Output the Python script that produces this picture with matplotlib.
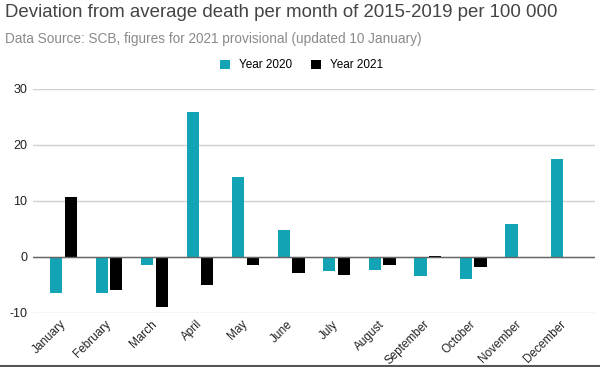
import matplotlib
matplotlib.use("Agg")
import matplotlib.pyplot as plt
import numpy as np
from matplotlib.patches import Patch
from matplotlib.lines import Line2D
from matplotlib.transforms import ScaledTranslation

months = ["January", "February", "March", "April", "May", "June", "July",
          "August", "September", "October", "November", "December"]
year2020 = [-6.5, -6.4, -1.5, 25.8, 14.2, 4.7, -2.6, -2.3, -3.5, -4.0, 5.8, 17.5]
year2021 = [10.6, -6.0, -8.9, -5.0, -1.4, -2.9, -3.2, -1.4, 0.2, -1.8, np.nan, np.nan]
yticks = [-10, 0, 10, 20, 30]

teal = "#12A4B4"
black = "#000000"

plt.rcParams['font.family'] = ['Liberation Sans', 'DejaVu Sans']

fig = plt.figure(figsize=(6.0, 3.67), dpi=100)
ax = fig.add_axes([0.055, 0.148, 0.937, 0.6095])

x = np.arange(len(months))
w = 0.27
off = 0.16
ax.bar(x - off, year2020, width=w, color=teal, zorder=3)
ax.bar(x + off, np.nan_to_num(year2021), width=w, color=black, zorder=3)

ax.set_xlim(-0.67, 11.68)
ax.set_ylim(-10, 30)
ax.set_yticks(yticks)
ax.set_yticklabels([str(v) for v in yticks], fontsize=9, color="#222222")
ax.yaxis.grid(True, color="#d0d0d0", linewidth=1.0, zorder=0)
ax.axhline(0, color="#666666", linewidth=1.0, zorder=4)
for s in ax.spines.values():
    s.set_visible(False)
ax.tick_params(axis="both", length=0, pad=4)
ax.set_xticks(x)
ax.set_xticklabels(months, rotation=45, ha="right", rotation_mode="anchor",
                   fontsize=8.5, color="#222222")
shift = ScaledTranslation(-4 / 100, 0, fig.dpi_scale_trans)
for lbl in ax.get_xticklabels():
    lbl.set_transform(lbl.get_transform() + shift)

fig.text(0.008, 0.965, "Deviation from average death per month of 2015-2019 per 100 000",
         fontsize=13.4, color="#444444", ha="left", va="center")
fig.text(0.008, 0.893, "Data Source: SCB, figures for 2021 provisional (updated 10 January)",
         fontsize=9.8, color="#8a8a8a", ha="left", va="center")

handles = [Patch(facecolor=teal, edgecolor="none"), Patch(facecolor=black, edgecolor="none")]
fig.legend(handles, ["Year 2020", "Year 2021"], loc="center", bbox_to_anchor=(0.503, 0.822),
           ncol=2, frameon=False, fontsize=8.5, handlelength=0.8, handleheight=0.8,
           columnspacing=1.6, handletextpad=0.8)

fig.add_artist(Line2D([0, 1], [0.004, 0.004], color="#555555", linewidth=1.5,
                      transform=fig.transFigure))

fig.savefig("out.png", dpi=100)
